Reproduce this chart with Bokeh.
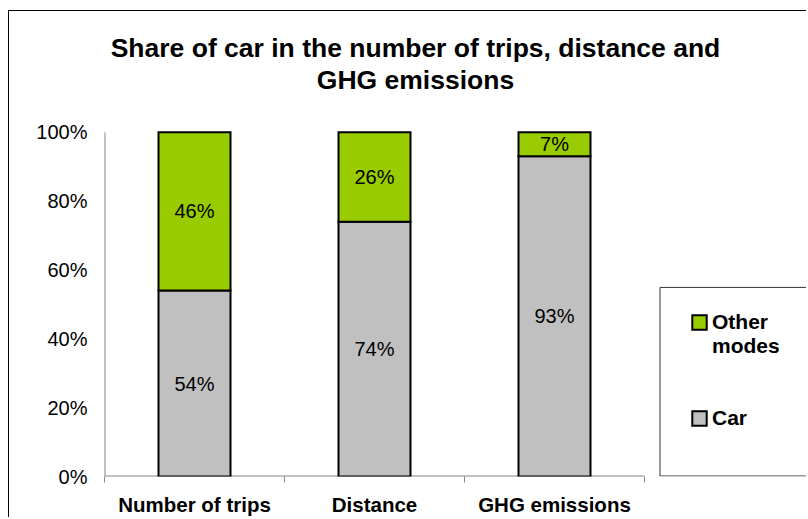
from bokeh.plotting import figure
from bokeh.models import (Range1d, FixedTicker, Legend, LegendItem, Label,
                          ColumnDataSource)
from bokeh.embed import file_html
from bokeh.resources import INLINE
from bokeh.core.properties import value

# ---------------- data ----------------
categories = ["Number of trips", "Distance", "GHG emissions"]
car_share = [54, 74, 93]
other_share = [46, 26, 7]
series_names = ["Other modes", "Car"]
y_ticks = [0, 20, 40, 60, 80, 100]
y_tick_labels = ["0%", "20%", "40%", "60%", "80%", "100%"]
title_lines = ["Share of car in the number of trips, distance and", "GHG emissions"]

# ---------------- style / layout ----------------
GREEN = "#99CC00"
GREY = "#C0C0C0"
AXIS = "#868686"
FONT = "Liberation Sans"

CX, CY = 9, 11            # page position of the canvas (after css margin + border)
W, H = 808 - CX - 1, 519 - CY - 1
FL = 104                  # page x of the value axis
FB = 477                  # page y of the category axis
PX_PER_CAT = 180.0
PX_PER_PCT = 3.45

x_pos = list(range(1, len(categories) + 1))
x_start = x_pos[0] - 0.5


def px_x(px):
    return x_start + (px - FL) / PX_PER_CAT


def px_y(py):
    return (FB - py) / PX_PER_PCT


p = figure(width=W, height=H,
           x_range=Range1d(x_start, px_x(CX + W)), y_range=Range1d(0, px_y(CY)),
           output_backend="svg", toolbar_location=None,
           min_border_left=FL - CX, min_border_right=0,
           min_border_top=0, min_border_bottom=H - (FB - CY))
p.styles = {"margin-left": "8px", "margin-top": "10px", "vertical-align": "top",
            "border-left": "1px solid #000000", "border-top": "1px solid #000000"}
p.xgrid.visible = False
p.ygrid.visible = False
p.outline_line_color = None
p.background_fill_color = "white"
p.border_fill_color = "white"

# x axis: labels at category centres, ticks at category boundaries
xa = p.xaxis[0]
xa.ticker = FixedTicker(ticks=x_pos,
                        minor_ticks=[x - 0.5 for x in x_pos] + [x_pos[-1] + 0.5])
xa.major_label_overrides = {x: c for x, c in zip(x_pos, categories)}
xa.major_tick_line_color = None
xa.major_tick_out = 0
xa.major_tick_in = 0
xa.minor_tick_out = 6
xa.minor_tick_in = 0
xa.minor_tick_line_color = AXIS
xa.axis_line_color = None
xa.major_label_standoff = 10
xa.major_label_text_font = FONT
xa.major_label_text_font_size = "20.5px"
xa.major_label_text_font_style = "bold"
xa.major_label_text_color = "black"

ya = p.yaxis[0]
ya.ticker = FixedTicker(ticks=y_ticks)
ya.major_label_overrides = {t: l for t, l in zip(y_ticks, y_tick_labels)}
ya.major_tick_line_color = None
ya.major_tick_out = 0
ya.major_tick_in = 0
ya.minor_tick_line_color = None
ya.axis_line_color = None
ya.major_label_standoff = 17
ya.major_label_text_font = FONT
ya.major_label_text_font_size = "20px"
ya.major_label_text_color = "black"

# axis lines limited to the plotted categories / value range
ax_x0, ax_x1 = x_pos[0] - 0.5, x_pos[-1] + 0.5
p.segment(x0=[ax_x0, ax_x0], y0=[y_ticks[0], y_ticks[0]],
          x1=[ax_x1, ax_x0], y1=[y_ticks[0], y_ticks[-1]],
          line_color=AXIS, line_width=2)

# ---------------- bars ----------------
src = ColumnDataSource(dict(
    x=x_pos,
    car=car_share,
    total=[c + o for c, o in zip(car_share, other_share)],
))
car_r = p.vbar(x="x", bottom=0, top="car", width=0.4, source=src,
               fill_color=GREY, line_color="black", line_width=2, line_join="miter")
other_r = p.vbar(x="x", bottom="car", top="total", width=0.4, source=src,
                 fill_color=GREEN, line_color="black", line_width=2, line_join="miter")

# data labels in the middle of each segment
lab_x = x_pos + x_pos
lab_y = [c / 2 for c in car_share] + [c + o / 2 for c, o in zip(car_share, other_share)]
lab_t = [f"{v}%" for v in car_share] + [f"{v}%" for v in other_share]
p.text(x=lab_x, y=lab_y, text=lab_t, text_align="center", text_baseline="middle",
       text_font=value(FONT), text_font_size="20px", text_color="black")

# ---------------- title ----------------
for line, py in zip(title_lines, [48, 80]):
    p.add_layout(Label(x=px_x(415), y=px_y(py), text=line, text_align="center",
                       text_baseline="alphabetic", text_font=FONT,
                       text_font_size="26.5px", text_font_style="bold",
                       text_color="black"))

# ---------------- legend box (open to the right, like the cropped original) ----
bx0, bx1 = px_x(659.5), px_x(900)
by0, by1 = px_y(476.5), px_y(287.5)
p.segment(x0=[bx0, bx0, bx0], y0=[by1, by0, by0],
          x1=[bx1, bx1, bx0], y1=[by1, by0, by1],
          line_color="#333333", line_width=1)

# ---------------- legend ----------------
dummy = p.vbar(x=[], top=[], width=0.4, fill_alpha=0, line_alpha=0)
first_word, second_word = series_names[0].split(" ", 1)
legend = Legend(items=[
    LegendItem(label=first_word, renderers=[other_r]),
    LegendItem(label=second_word, renderers=[dummy]),
    LegendItem(label=" ", renderers=[dummy]),
    LegendItem(label="  ", renderers=[dummy]),
    LegendItem(label=series_names[1], renderers=[car_r]),
], location=(586, 46), padding=0, margin=0, border_line_color=None,
    background_fill_alpha=0, label_height=24, glyph_height=18, glyph_width=18,
    spacing=0, label_standoff=4, label_text_font=FONT, label_text_font_size="21px",
    label_text_font_style="bold", label_text_color="black",
    label_text_baseline="alphabetic")
p.add_layout(legend)

open("out.html", "w").write(file_html(p, INLINE))
